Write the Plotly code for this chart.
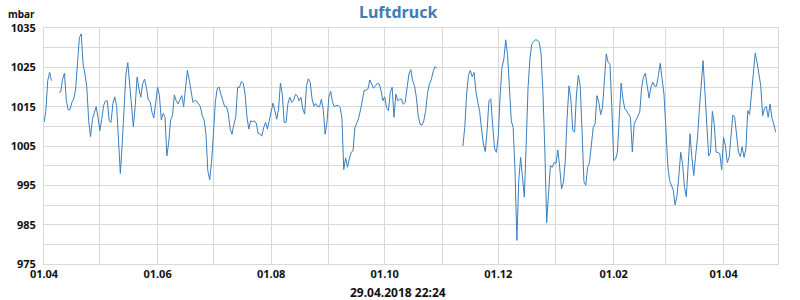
import pandas as pd
import plotly.graph_objects as go

start_date = "2017-04-01"
pressure = [
    1011, 1014, 1021.6, 1023.7, 1021.6, None, None, None, 1018.6, 1018.8,
    1022, 1023.5, 1016.5, 1014.2, 1014.3, 1016.1, 1017, 1019.5, 1026, 1032.5,
    1033.5, 1025.8, 1023.3, 1019.9, 1011.4, 1007.4, 1011.8, 1013.8, 1015, 1012.3,
    1008.9, 1011.8, 1015.3, 1016.4, 1016.5, 1011.4, 1011, 1015.7, 1017.5, 1015.3,
    1005.1, 998, 1005.5, 1014, 1023.3, 1026.2, 1020.8, 1013.6, 1009.9, 1015.3,
    1022.5, 1019.5, 1017.4, 1020.8, 1022, 1019.9, 1016.7, 1016.3, 1013.6, 1012.1,
    1016.5, 1019.9, 1017.8, 1011.6, 1013.3, 1012.3, 1002.5, 1006, 1011.6, 1012.7,
    1018, 1016.5, 1015.7, 1017, 1017.8, 1015, 1019.5, 1024.2, 1021.8, 1018.9,
    1016.1, 1016.6, 1016.4, 1015.7, 1015, 1012.7, 1011.6, 1008, 998.7, 996.4,
    1001, 1008, 1016, 1019.5, 1020, 1018.2, 1016.6, 1015.1, 1015, 1013.3,
    1009.3, 1008, 1010.5, 1012.3, 1019.9, 1019.9, 1021.4, 1021, 1018.2, 1012.5,
    1009.3, 1011.4, 1011.2, 1011.4, 1010.8, 1008.2, 1008.1, 1007.5, 1009.7, 1011,
    1009.3, 1011.4, 1013.5, 1015.9, 1014, 1011.8, 1014.4, 1021, 1018.2, 1011,
    1011, 1015.7, 1017.4, 1016.1, 1016.5, 1018.1, 1017.8, 1016.5, 1017.4, 1014.4,
    1013.1, 1020.3, 1022.1, 1021.2, 1016.9, 1015.1, 1015.8, 1015, 1015, 1016.9,
    1014.2, 1008, 1011, 1017.4, 1018.9, 1016.1, 1015, 1015.3, 1015.3, 1014.8,
    1012.3, 999, 1002, 999.6, 1001.7, 1003.4, 1003.8, 1009.7, 1010.8, 1012.1,
    1014.2, 1016.9, 1019.1, 1019.2, 1019.5, 1021.8, 1020.9, 1019.7, 1020.3, 1020.9,
    1020.8, 1019.2, 1016.5, 1017.5, 1014.8, 1014, 1018.6, 1019.9, 1012.3, 1018.2,
    1016.5, 1016.9, 1016.9, 1015.6, 1016.1, 1019.1, 1023.3, 1024.4, 1021.6, 1020.3,
    1017.4, 1012.7, 1010.5, 1010.3, 1011.4, 1014, 1018.4, 1020.8, 1021.8, 1023.9,
    1025.2, 1024.7, None, None, None, None, None, None, None, None,
    None, None, None, None, None, 1005, 1009.7, 1018.2, 1023, 1024.2,
    1022.6, 1023.7, 1018.9, 1016.1, 1013.8, 1009.3, 1005.5, 1003.6, 1008.9, 1016.5,
    1017, 1010.2, 1004.4, 1003.4, 1007.6, 1017.8, 1025, 1027.1, 1032, 1028,
    1020.3, 1011.4, 1009.7, 998.7, 981, 996.2, 1002.1, 996.2, 992, 1005.5,
    1019.9, 1027.1, 1030.9, 1031.6, 1032, 1031.9, 1031.4, 1028.4, 1018.6, 1004.2,
    985.5, 993, 1000, 999.6, 1000.8, 1000.5, 1004, 999.6, 994.1, 995.8,
    1001.3, 1012.3, 1020.3, 1016.9, 1009, 1008.5, 1018.2, 1023, 1020.3, 1008.9,
    996, 995, 999.6, 1000.8, 1005.7, 1009.7, 1010.6, 1017.8, 1016.1, 1013,
    1014.8, 1021.2, 1028.4, 1026.3, 1025.8, 1014.8, 1001.3, 1001.7, 1003.4, 1012.3,
    1021, 1016.9, 1014.4, 1013.9, 1013, 1012.3, 1003.5, 1010.6, 1011.6, 1012.7,
    1013.6, 1019.9, 1022.5, 1023.5, 1019.9, 1017.2, 1019.9, 1021.2, 1020.2, 1020.2,
    1022.9, 1026, 1022, 1018.2, 1009.7, 1000.4, 996.2, 995.2, 993.8, 990,
    992.4, 997.5, 1003.4, 1000.4, 994.5, 992.1, 999, 1008.1, 1002.1, 997.5,
    1002.5, 1007, 1014.2, 1020.3, 1026.7, 1018.6, 1011, 1002.5, 1003.4, 1013.8,
    1010.6, 1003.4, 1003.4, 1003, 999, 1007.2, 1005.1, 1000.8, 1002.1, 1007,
    1012.9, 1012.3, 1008.1, 1003.4, 1002.3, 1004.8, 1002.1, 1004.2, 1014, 1013,
    1018.2, 1024.6, 1028.6, 1026.3, 1023.1, 1020.3, 1012.7, 1014.6, 1015, 1012.3,
    1015.7, 1012.1, 1010.6, 1008.5,
]
dates = pd.date_range(start_date, periods=len(pressure), freq="D")

y_ticks = list(range(975, 1036, 5))
y_labels = [str(v) if (v - 975) % 10 == 0 else "" for v in y_ticks]
x_range = ["2017-04-01", "2018-04-30 06:00"]
title_text = "Luftdruck"
unit_text = "mbar"
stamp_text = "29.04.2018 22:24"

GRID = "#d9d9d9"
FONT = "Noto Sans"

fig = go.Figure()
fig.add_trace(go.Scatter(
    x=dates, y=pressure, mode="lines",
    line=dict(color="#3a7fbf", width=1),
    connectgaps=False, hoverinfo="skip",
))

fig.update_layout(
    width=800, height=300,
    margin=dict(l=44, r=22, t=28, b=36),
    paper_bgcolor="white", plot_bgcolor="white",
    showlegend=False,
    font=dict(family=FONT, size=11, color="#111111"),
)
fig.update_xaxes(
    type="date", range=x_range,
    tick0="2017-04-01", dtick="M2", tickformat="%d.%m",
    showgrid=True, gridcolor=GRID, gridwidth=1,
    minor=dict(dtick="M1", tick0="2017-04-01", showgrid=True, gridcolor=GRID, gridwidth=1),
    showline=True, linecolor=GRID, linewidth=1, mirror=True,
    ticks="", zeroline=False,
    tickfont=dict(family=FONT, size=11, color="#111111", weight="bold"),
)
fig.update_yaxes(
    range=[975, 1035], tickmode="array", tickvals=y_ticks, ticktext=y_labels,
    showgrid=True, gridcolor=GRID, gridwidth=1,
    showline=True, linecolor=GRID, linewidth=1, mirror=True,
    ticks="", zeroline=False, ticklabelstandoff=5,
    tickfont=dict(family=FONT, size=11, color="#111111", weight="bold"),
)
# Title placed as an annotation so that its box starts at the top edge of the page
fig.add_annotation(text=title_text, xref="paper", yref="paper",
                   x=0.4823, y=1.1186, xanchor="center", yanchor="top",
                   showarrow=False, borderpad=0,
                   font=dict(family=FONT, size=16, color="#3e7cb5", weight="bold"))
fig.add_annotation(text=unit_text, xref="paper", yref="paper",
                   x=-0.0313, y=1.059, xanchor="center", yanchor="middle",
                   showarrow=False,
                   font=dict(family=FONT, size=10, color="#111111", weight="bold"))
fig.add_annotation(text=stamp_text, xref="paper", yref="paper",
                   x=0.4823, y=-0.1208, xanchor="center", yanchor="middle",
                   showarrow=False,
                   font=dict(family=FONT, size=12, color="#111111", weight="bold"))

fig.write_html("out.html")
